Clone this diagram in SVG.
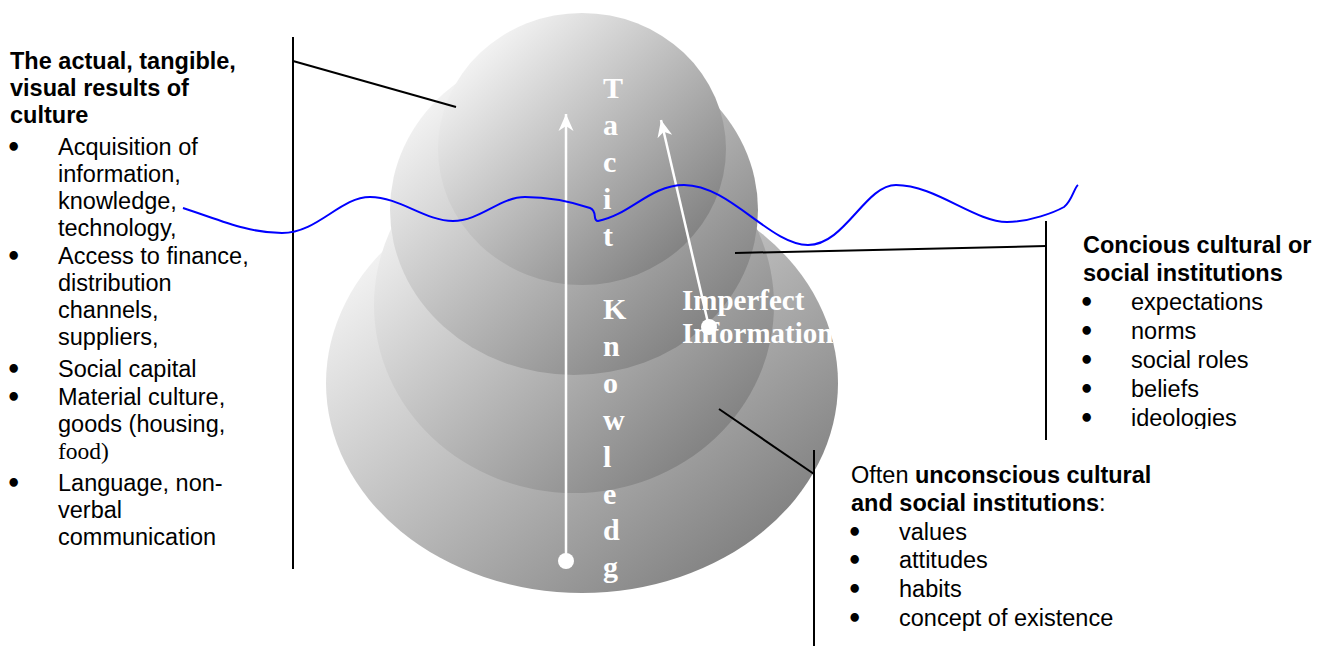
<svg xmlns="http://www.w3.org/2000/svg" width="1325" height="646" viewBox="0 0 1325 646">
<style>
.t{font-family:"Liberation Sans",Arial,sans-serif;font-size:23.5px;fill:#000}
.b{font-weight:bold}
.u{font-family:"DejaVu Sans",sans-serif;font-size:24px;font-weight:bold;fill:#000}
.s{font-family:"Liberation Serif","Times New Roman",serif;font-weight:bold;fill:#fff}
.tk{font-size:30px}
.ii{font-size:29px}
.ln{stroke:#000;stroke-width:2;fill:none}
.wa{stroke:#fff;stroke-width:2.5;fill:none}
.wave{stroke:#0000ff;stroke-width:2;fill:none}
</style>
<defs>
<linearGradient id="g" x1="0" y1="0" x2="1" y2="1">
<stop offset="0.1" stop-color="#f9f9f9"/>
<stop offset="0.9" stop-color="#7c7c7c"/>
</linearGradient>
<marker id="ah" viewBox="-18 -8 20 16" refX="0" refY="0" markerWidth="20" markerHeight="16" markerUnits="userSpaceOnUse" orient="auto">
<path d="M0,0 L-17,-7.5 L-12,0 L-17,7.5 Z" fill="#fff"/>
</marker>
<clipPath id="rc"><rect x="1060" y="200" width="265" height="229"/></clipPath>
</defs>

<g id="layers">
<ellipse id="layer4" cx="582" cy="383" rx="256" ry="210" fill="url(#g)"/>
<ellipse id="layer3" cx="574" cy="305" rx="200" ry="188" fill="url(#g)"/>
<ellipse id="layer2" cx="574" cy="210" rx="184" ry="165" fill="url(#g)"/>
<ellipse id="layer1" cx="582" cy="149" rx="144" ry="136" fill="url(#g)"/>
</g>

<g id="tacit-knowledge">
<line class="wa" x1="566" y1="561" x2="566" y2="114" marker-end="url(#ah)"/>
<circle cx="566" cy="561" r="8" fill="#fff"/>
<text class="s tk" x="603" y="98">T</text>
<text class="s tk" x="603" y="135">a</text>
<text class="s tk" x="603" y="172">c</text>
<text class="s tk" x="603" y="208.5">i</text>
<text class="s tk" x="603" y="245.5">t</text>
<text class="s tk" x="603" y="319">K</text>
<text class="s tk" x="603" y="356">n</text>
<text class="s tk" x="603" y="393">o</text>
<text class="s tk" x="603" y="429.5">w</text>
<text class="s tk" x="603" y="466.5">l</text>
<text class="s tk" x="603" y="503.5">e</text>
<text class="s tk" x="603" y="540">d</text>
<text class="s tk" x="603" y="577">g</text>
</g>

<g id="imperfect-information">
<line class="wa" x1="709" y1="327" x2="661" y2="120" marker-end="url(#ah)"/>
<circle cx="709" cy="327" r="8" fill="#fff"/>
<text class="s ii" x="682" y="310">Imperfect</text>
<text class="s ii" x="682" y="343">Information</text>
</g>

<g id="connectors">
<line class="ln" x1="293" y1="37" x2="293" y2="569"/>
<line class="ln" x1="293" y1="61" x2="456" y2="107"/>
<line class="ln" x1="1046" y1="221" x2="1046" y2="440"/>
<line class="ln" x1="735" y1="253" x2="1046" y2="246"/>
<line class="ln" x1="814" y1="450" x2="814" y2="646"/>
<line class="ln" x1="719" y1="409" x2="814" y2="474"/>
<path class="wave" d="M183,208 C220,220 248,233 282,233 C318,233 340,197 370,197 C400,197 425,221 453,221 C480,221 500,197 525,197 C550,197 575,203 590,208 C598,211 592,221 598,221 C630,215 650,185 684,185 C730,185 770,245 808,245 C845,245 865,185 896,185 C935,185 975,222 1007,222 C1030,222 1055,212 1064,207 C1072,201 1074,188 1078,185"/>
</g>

<g id="left-text">
<text class="t b" x="10" y="69">The actual, tangible,</text>
<text class="t b" x="10" y="96">visual results of</text>
<text class="t b" x="10" y="123">culture</text>
<text class="u" x="6" y="156">•</text>
<text class="t" x="58" y="155">Acquisition of</text>
<text class="t" x="58" y="182">information,</text>
<text class="t" x="58" y="209">knowledge,</text>
<text class="t" x="58" y="236">technology,</text>
<text class="u" x="6" y="265">•</text>
<text class="t" x="58" y="264">Access to finance,</text>
<text class="t" x="58" y="291">distribution</text>
<text class="t" x="58" y="318">channels,</text>
<text class="t" x="58" y="345">suppliers,</text>
<text class="u" x="6" y="378">•</text>
<text class="t" x="58" y="377">Social capital</text>
<text class="u" x="6" y="406">•</text>
<text class="t" x="58" y="405">Material culture,</text>
<text class="t" x="58" y="432">goods (housing,</text>
<text x="58" y="459" style="font-family:'Liberation Serif','Times New Roman',serif;font-size:23.5px">food)</text>
<text class="u" x="6" y="492">•</text>
<text class="t" x="58" y="491">Language, non-</text>
<text class="t" x="58" y="518">verbal</text>
<text class="t" x="58" y="545">communication</text>
</g>

<g id="right-text-conscious" clip-path="url(#rc)">
<text class="t b" x="1083" y="253">Concious cultural or</text>
<text class="t b" x="1083" y="281">social institutions</text>
<text class="u" x="1079" y="311">•</text>
<text class="t" x="1131" y="310">expectations</text>
<text class="u" x="1079" y="340">•</text>
<text class="t" x="1131" y="339">norms</text>
<text class="u" x="1079" y="369">•</text>
<text class="t" x="1131" y="368">social roles</text>
<text class="u" x="1079" y="398">•</text>
<text class="t" x="1131" y="397">beliefs</text>
<text class="u" x="1079" y="427">•</text>
<text class="t" x="1131" y="426">ideologies</text>
</g>

<g id="right-text-unconscious">
<text class="t" x="851" y="483">Often <tspan class="b">unconscious cultural</tspan></text>
<text class="t" x="851" y="511"><tspan class="b">and social institutions</tspan>:</text>
<text class="u" x="847" y="541">•</text>
<text class="t" x="899" y="540">values</text>
<text class="u" x="847" y="569">•</text>
<text class="t" x="899" y="568">attitudes</text>
<text class="u" x="847" y="598">•</text>
<text class="t" x="899" y="597">habits</text>
<text class="u" x="847" y="627">•</text>
<text class="t" x="899" y="626">concept of existence</text>
</g>
</svg>
